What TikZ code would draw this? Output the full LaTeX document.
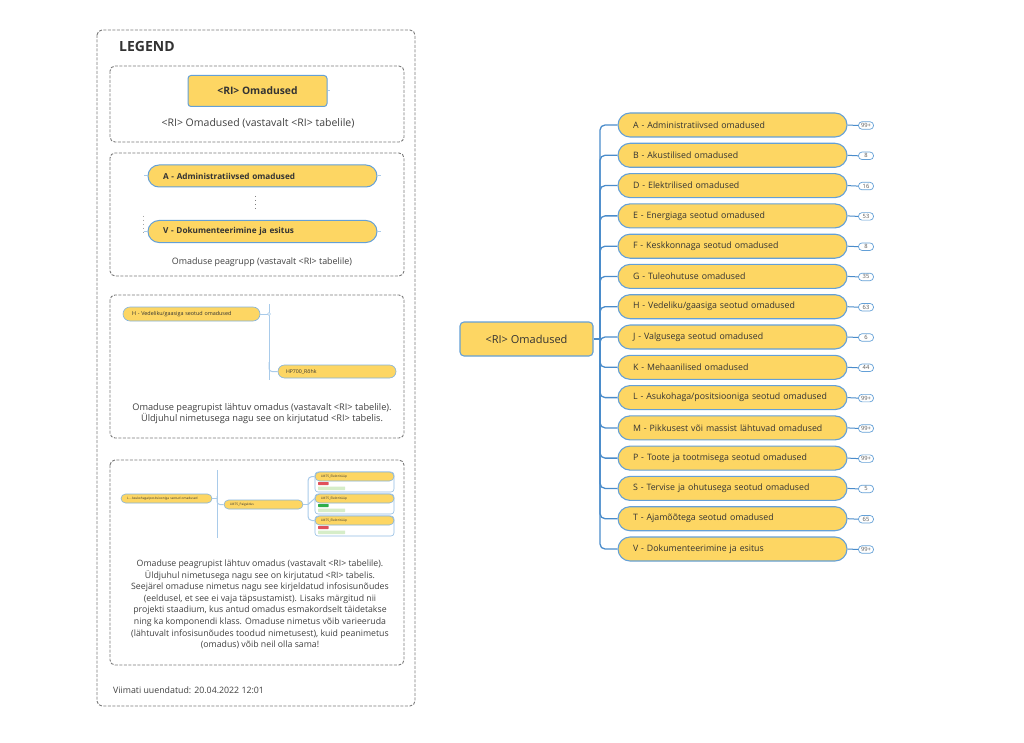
\documentclass[tikz,border=0pt]{standalone}
\usepackage{fontspec}
\setmainfont{Open Sans}
\definecolor{nodeyellow}{HTML}{FDD663}
\definecolor{nodeblue}{HTML}{64A0D7}
\definecolor{branchblue}{HTML}{4A8CCB}
\definecolor{lightline}{HTML}{A9CBEA}
\definecolor{dashgray}{HTML}{7A7A7A}
\definecolor{txt}{HTML}{333333}
\definecolor{captxt}{HTML}{404040}
\definecolor{tagred}{HTML}{E0505A}
\definecolor{taggreen}{HTML}{2FAE4A}
\definecolor{labgreen}{HTML}{D6EDC8}
\begin{document}
\begin{tikzpicture}[x=1pt,y=-1pt,
  child/.style={draw=nodeblue, line width=1.1pt, fill=nodeyellow, rounded corners=12pt,
    minimum height=24pt, text width=199pt, inner xsep=15pt, inner ysep=0pt, align=left,
    font=\fontsize{8.8}{10}\selectfont, text=txt},
  rootnode/.style={draw=nodeblue, line width=1.1pt, fill=nodeyellow, rounded corners=4pt,
    minimum width=133pt, minimum height=34pt, inner sep=0pt,
    font=\fontsize{11}{13}\selectfont, text=txt},
  badge/.style={draw=nodeblue, line width=0.7pt, fill=white, rounded corners=3.5pt,
    minimum width=15pt, minimum height=7.5pt, inner sep=0pt,
    font=\fontsize{5.8}{6}\selectfont, text=black!65},
  branch/.style={draw=branchblue, line width=1.3pt, rounded corners=5pt},
  boxdash/.style={draw=dashgray, line width=0.9pt, dash pattern=on 3pt off 1.5pt, rounded corners=5pt},
  lchild/.style={draw=nodeblue, line width=1pt, fill=nodeyellow, rounded corners=11pt,
    minimum height=22pt, text width=199pt, inner xsep=15pt, inner ysep=0pt, align=left,
    font=\fontsize{8.2}{10}\selectfont, text=txt},
  tinynode/.style={draw=nodeblue!80, line width=0.6pt, fill=nodeyellow, rounded corners=6pt,
    inner ysep=0pt, align=left, text=txt},
  lline/.style={draw=lightline, line width=1pt},
  captext/.style={text=captxt, align=center, inner sep=0pt}
]
\useasboundingbox (0,0) rectangle (1024,743);
\fill[white] (0,0) rectangle (1024,743);

% ================= LEGEND =================
\draw[boxdash] (97,30) rectangle (415,706);
\node[anchor=west, font=\fontsize{14}{16}\selectfont\bfseries, text=txt, inner sep=0pt] (legtitle) at (119,47) {LEGEND};

% box 1
\draw[boxdash] (110,66) rectangle (404,142);
\node[draw=nodeblue, line width=1pt, fill=nodeyellow, rounded corners=3pt, minimum width=139pt, minimum height=31pt, inner sep=0pt, font=\fontsize{10.3}{12}\selectfont\bfseries, text=txt] (lroot) at (257.5,91) {<RI> Omadused};
\coordinate (lrootstub) at (330,91);
\draw[lline] (lroot.east) -- (lrootstub);
\node[captext, font=\fontsize{10.5}{12}\selectfont] (cap1) at (258,123) {<RI> Omadused (vastavalt <RI> tabelile)};

% box 2
\draw[boxdash] (110,153) rectangle (404,276);
\node[lchild, text width=199pt, minimum width=229pt, font=\fontsize{8.2}{10}\selectfont\bfseries] (lA) at (262.5,176) {A - Administratiivsed omadused};
\node[lchild, text width=199pt, minimum width=229pt, font=\fontsize{8.2}{10}\selectfont\bfseries] (lV) at (262.5,231.5) {V - Dokumenteerimine ja esitus};
\coordinate (lAl) at (144,176); \coordinate (lAr) at (381,176);
\coordinate (lVl) at (144,231.5); \coordinate (lVr) at (381,231.5);
\draw[lline] (lAl) -- (lA.west); \draw[lline] (lA.east) -- (lAr);
\draw[lline] (lVl) -- (lV.west); \draw[lline] (lV.east) -- (lVr);
\coordinate (dtop) at (255,196); \coordinate (dbot) at (255,212);
\draw[draw=gray, line width=0.8pt, dash pattern=on 1pt off 3pt] (dtop) -- (dbot);
\coordinate (d2top) at (143,216); \coordinate (d2bot) at (143,233);
\draw[draw=gray!70, line width=0.6pt, dash pattern=on 1pt off 3pt] (d2top) -- (d2bot);
\node[captext, font=\fontsize{8.9}{10}\selectfont] (cap2) at (262,262) {Omaduse peagrupp (vastavalt <RI> tabelile)};

% box 3
\draw[boxdash] (110,295) rectangle (404,438);
\node[tinynode, rounded corners=7pt, minimum height=14pt, text width=119pt, inner xsep=9pt, font=\fontsize{5.4}{6}\selectfont] (lH) at (191.5,314) {H - Vedeliku/gaasiga seotud omadused};
\coordinate (l3top) at (269,304); \coordinate (l3bot) at (269,380); \coordinate (l3j) at (269,314);
\draw[lline] (l3top) -- (l3bot);
\draw[lline] (lH.east) -- (l3j);
\node[tinynode, rounded corners=6.5pt, minimum height=13pt, text width=102pt, inner xsep=8pt, font=\fontsize{5.2}{6}\selectfont] (lHP) at (337,371.5) {HP700\_Rõhk};
\draw[lline, rounded corners=3pt] (269,362) |- (lHP.west);
\draw[draw=lightline, fill=white, line width=0.5pt] (l3j) circle (1.5pt);
\node[captext, font=\fontsize{9.2}{11.2}\selectfont] (cap3) at (262,413.5) {Omaduse peagrupist lähtuv omadus (vastavalt <RI> tabelile).\\Üldjuhul nimetusega nagu see on kirjutatud <RI> tabelis.};

% box 4
\draw[boxdash] (110,460) rectangle (404,665);
\node[tinynode, rounded corners=4.5pt, minimum height=9pt, text width=79pt, inner xsep=6pt, font=\fontsize{3.2}{4}\selectfont] (lL) at (166.5,498.5) {L - Asukohaga/positsiooniga seotud omadused};
\coordinate (l4top) at (217,470); \coordinate (l4bot) at (217,538); \coordinate (l4j) at (217,498.5);
\draw[lline] (l4top) -- (l4bot);
\draw[lline] (lL.east) -- (l4j);
\node[tinynode, rounded corners=4.5pt, minimum height=9pt, text width=67pt, inner xsep=6pt, font=\fontsize{3.2}{4}\selectfont] (lLM) at (263.5,504.5) {LM75\_Paigaldus};
\draw[lline, rounded corners=3pt] (217,496) |- (lLM.west);
% cards
\foreach \i/\y/\tc in {1/472/tagred,2/494/taggreen,3/516/tagred}{
  \draw[draw=nodeblue!70, line width=0.6pt, fill=white, rounded corners=3pt] (315,\y) rectangle (394,\y+20);
  \node[tinynode, rounded corners=4.5pt, minimum width=79pt, minimum height=9pt, text width=67pt, inner xsep=6pt, font=\fontsize{3.2}{4}\selectfont] (card\i) at (354.5,\y+4.5) {LM75\_Elektritüüp};
  \fill[\tc, rounded corners=0.5pt] (318,\y+10) rectangle (328.5,\y+13);
  \fill[labgreen, rounded corners=0.5pt] (318,\y+14.5) rectangle (345,\y+18);
}
\coordinate (brk) at (308,504.5);
\draw[lline] (lLM.east) -- (brk);
\draw[lline, rounded corners=4pt] (brk) |- (card1.west);
\draw[lline] (brk) -- (card2.west);
\draw[lline, rounded corners=4pt] (brk) |- (card3.west);
\node[captext, font=\fontsize{8.75}{11.6}\selectfont] (cap4) at (260,604.5) {Omaduse peagrupist lähtuv omadus (vastavalt <RI> tabelile).\\Üldjuhul nimetusega nagu see on kirjutatud <RI> tabelis.\\Seejärel omaduse nimetus nagu see kirjeldatud infosisunõudes\\(eeldusel, et see ei vaja täpsustamist). Lisaks märgitud nii\\projekti staadium, kus antud omadus esmakordselt täidetakse\\ning ka komponendi klass. Omaduse nimetus võib varieeruda\\(lähtuvalt infosisunõudes toodud nimetusest), kuid peanimetus\\(omadus) võib neil olla sama!};

\node[anchor=west, text=captxt, inner sep=0pt, font=\fontsize{8.8}{10}\selectfont] (footer) at (113,690) {Viimati uuendatud: 20.04.2022 12:01};

% ================= MIND MAP =================
\node[rootnode] (root) at (526.5,339) {<RI> Omadused};
\coordinate (trunk) at (600,339);

\node[child] (cA) at (732.5,125) {A - Administratiivsed omadused};
\node[child] (cB) at (732.5,155.3) {B - Akustilised omadused};
\node[child] (cD) at (732.5,185.6) {D - Elektrilised omadused};
\node[child] (cE) at (732.5,215.9) {E - Energiaga seotud omadused};
\node[child] (cF) at (732.5,246.2) {F - Keskkonnaga seotud omadused};
\node[child] (cG) at (732.5,276.4) {G - Tuleohutuse omadused};
\node[child] (cH) at (732.5,306.7) {H - Vedeliku/gaasiga seotud omadused};
\node[child] (cJ) at (732.5,337) {J - Valgusega seotud omadused};
\node[child] (cK) at (732.5,367.3) {K - Mehaanilised omadused};
\node[child] (cL) at (732.5,397.6) {L - Asukohaga/positsiooniga seotud omadused};
\node[child] (cM) at (732.5,427.9) {M - Pikkusest või massist lähtuvad omadused};
\node[child] (cP) at (732.5,458.1) {P - Toote ja tootmisega seotud omadused};
\node[child] (cS) at (732.5,488.4) {S - Tervise ja ohutusega seotud omadused};
\node[child] (cT) at (732.5,518.7) {T - Ajamõõtega seotud omadused};
\node[child] (cV) at (732.5,549) {V - Dokumenteerimine ja esitus};

\node[badge] (bA) at (866,125.5) {99+};
\node[badge] (bB) at (866,155.8) {8};
\node[badge] (bD) at (866,186.1) {16};
\node[badge] (bE) at (866,216.4) {53};
\node[badge] (bF) at (866,246.7) {8};
\node[badge] (bG) at (866,276.9) {35};
\node[badge] (bH) at (866,307.2) {63};
\node[badge] (bJ) at (866,337.5) {6};
\node[badge] (bK) at (866,367.8) {44};
\node[badge] (bL) at (866,398.1) {99+};
\node[badge] (bM) at (866,428.4) {99+};
\node[badge] (bP) at (866,458.6) {99+};
\node[badge] (bS) at (866,488.9) {5};
\node[badge] (bT) at (866,519.2) {65};
\node[badge] (bV) at (866,549.5) {99+};

\draw[branch] (root.east) -- (trunk);
\foreach \n in {A,B,D,E,F,G,H,J,K,L,M,P,S,T,V}{
  \draw[branch] (trunk) |- (c\n.west);
  \draw[draw=branchblue, line width=1pt] (c\n.east) -- (b\n.west);
}
\end{tikzpicture}
\end{document}
